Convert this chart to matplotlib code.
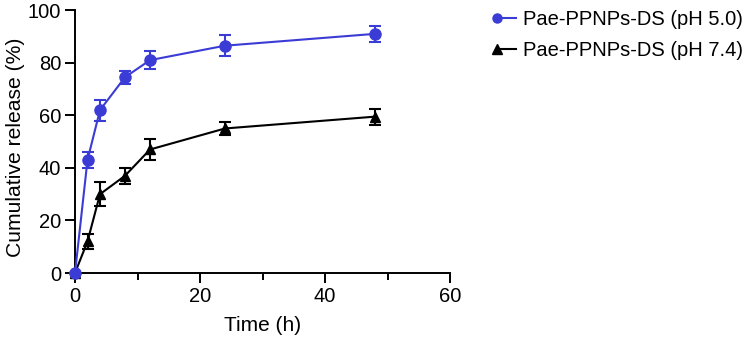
import matplotlib
matplotlib.use("Agg")
import matplotlib.pyplot as plt
from matplotlib.ticker import MultipleLocator
from matplotlib.lines import Line2D
from matplotlib.legend_handler import HandlerBase

plt.rcParams['font.family'] = ['Liberation Sans', 'DejaVu Sans']

time_h = [0, 2, 4, 8, 12, 24, 48]
ph50 = [0, 43, 62, 74.5, 81, 86.5, 91]
ph50_err = [0, 3, 4, 2.5, 3.5, 4, 3]
ph74 = [0, 12, 30, 37, 47, 55, 59.5]
ph74_err = [0, 3, 4.5, 3, 4, 2.5, 3]
labels = ["Pae-PPNPs-DS (pH 5.0)", "Pae-PPNPs-DS (pH 7.4)"]

fig = plt.figure(figsize=(7.5, 3.4), dpi=100)
ax = fig.add_axes([0.1, 0.197, 0.5, 0.773])

blue = '#3b3bd6'
ax.errorbar(time_h, ph74, yerr=ph74_err, color='black', marker='^', markersize=7,
            lw=1.5, capsize=4.5, elinewidth=1.5, capthick=1.5, zorder=2, clip_on=False)
ax.errorbar(time_h, ph50, yerr=ph50_err, color=blue, marker='o', markersize=8,
            lw=1.5, capsize=4.5, elinewidth=1.5, capthick=1.5, zorder=3, clip_on=False)

ax.set_xlim(0, 60)
ax.set_ylim(0, 100)
ax.xaxis.set_major_locator(MultipleLocator(20))
ax.xaxis.set_minor_locator(MultipleLocator(10))
ax.yaxis.set_major_locator(MultipleLocator(20))
for s in ['top', 'right']:
    ax.spines[s].set_visible(False)
for s in ['left', 'bottom']:
    ax.spines[s].set_linewidth(1.4)
ax.tick_params(which='major', length=7, width=1.4, labelsize=14.5, pad=3)
ax.tick_params(which='minor', length=5, width=1.4)
ax.set_xlabel("Time (h)", fontsize=15, labelpad=7)
ax.set_ylabel("Cumulative release (%)", fontsize=15.2)
ax.yaxis.set_label_coords(-0.133, 0.48)


class LeftMarkerHandler(HandlerBase):
    def create_artists(self, legend, orig_handle, xdescent, ydescent, width, height, fontsize, trans):
        y = height / 2 - ydescent
        x0 = -xdescent
        x1 = width - xdescent
        line = Line2D([x0, x1], [y, y], color=orig_handle.get_color(),
                      lw=orig_handle.get_linewidth(), transform=trans)
        mk = Line2D([x0], [y], color=orig_handle.get_color(), marker=orig_handle.get_marker(),
                    markersize=orig_handle.get_markersize(), linestyle='None', transform=trans)
        return [line, mk]


handles = [Line2D([], [], color=blue, marker='o', markersize=6.5, lw=1.5),
           Line2D([], [], color='black', marker='^', markersize=6.5, lw=1.5)]
fig.legend(handles, labels, loc='upper left', bbox_to_anchor=(0.638, 1.025),
           frameon=False, fontsize=14.5, handlelength=0.95, handletextpad=0.35,
           labelspacing=0.6,
           handler_map={Line2D: LeftMarkerHandler()})

fig.savefig("out.png", dpi=100)
